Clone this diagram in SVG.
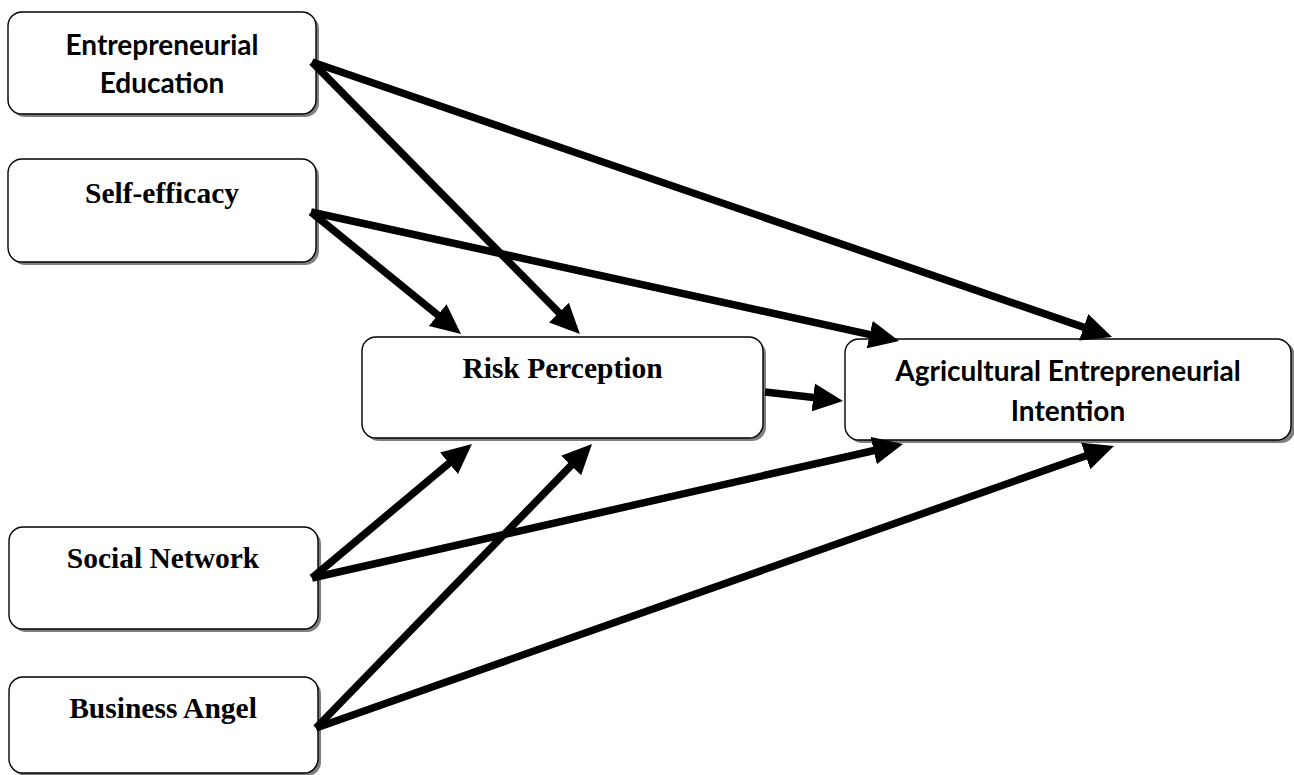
<svg xmlns="http://www.w3.org/2000/svg" width="1294" height="775" viewBox="0 0 1294 775">
  <style>
    .shadow { fill: #7f7f7f; }
    .box { fill: #ffffff; stroke: #000000; stroke-width: 1.4; }
    .sans { font-family: Lato, "Open Sans", "Liberation Sans", sans-serif; font-weight: bold; font-size: 28px; fill: #000; text-anchor: middle; }
    .serif { font-family: "Liberation Serif", "Times New Roman", serif; font-weight: bold; font-size: 29.5px; fill: #000; text-anchor: middle; }
    .conn { stroke: #000; stroke-width: 7.5; fill: none; marker-end: url(#arrow); }
  </style>
  <defs>
    <marker id="arrow" markerUnits="userSpaceOnUse" markerWidth="31" markerHeight="29" refX="5" refY="14" orient="auto" viewBox="0 0 31 28">
      <path d="M0,0 L30,14 L0,28 z" fill="#000"/>
    </marker>
  </defs>
  <rect width="1294" height="775" fill="#ffffff"/>

  <g id="node-entrepreneurial-education">
    <rect class="shadow" x="11" y="15" width="308" height="102" rx="14"/>
    <rect class="box" x="8" y="12" width="308" height="102" rx="14"/>
    <text class="sans" x="162" y="55">Entrepreneurial</text>
    <text class="sans" x="162" y="93">Education</text>
  </g>
  <g id="node-self-efficacy">
    <rect class="shadow" x="11" y="162" width="308" height="103" rx="14"/>
    <rect class="box" x="8" y="159" width="308" height="103" rx="14"/>
    <text class="serif" x="162" y="203">Self-efficacy</text>
  </g>
  <g id="node-risk-perception">
    <rect class="shadow" x="365" y="340" width="401" height="101" rx="14"/>
    <rect class="box" x="362" y="337" width="401" height="101" rx="14"/>
    <text class="serif" x="562.5" y="378">Risk Perception</text>
  </g>
  <g id="node-agricultural-entrepreneurial-intention">
    <rect class="shadow" x="848" y="342" width="447" height="101" rx="14"/>
    <rect class="box" x="845" y="339" width="446" height="101" rx="14"/>
    <text class="sans" x="1068" y="381">Agricultural Entrepreneurial</text>
    <text class="sans" x="1068" y="421">Intention</text>
  </g>
  <g id="node-social-network">
    <rect class="shadow" x="12" y="530" width="309" height="102" rx="14"/>
    <rect class="box" x="9" y="527" width="309" height="102" rx="14"/>
    <text class="serif" x="163" y="568">Social Network</text>
  </g>
  <g id="node-business-angel">
    <rect class="shadow" x="12" y="680" width="309" height="96" rx="14"/>
    <rect class="box" x="9" y="677" width="309" height="96" rx="14"/>
    <text class="serif" x="163" y="718">Business Angel</text>
  </g>

  <g id="connectors">
    <line class="conn" x1="312" y1="62" x2="562.4" y2="316.2"/>
    <line class="conn" x1="312" y1="62" x2="1088.4" y2="328.9"/>
    <line class="conn" x1="311" y1="212" x2="441.6" y2="318.2"/>
    <line class="conn" x1="311" y1="212" x2="874.6" y2="335.6"/>
    <line class="conn" x1="765" y1="392" x2="818.2" y2="398.1"/>
    <line class="conn" x1="312" y1="578" x2="452.8" y2="460.1"/>
    <line class="conn" x1="312" y1="578" x2="878.6" y2="449.5"/>
    <line class="conn" x1="316" y1="728" x2="574.6" y2="461.9"/>
    <line class="conn" x1="316" y1="728" x2="1090.4" y2="454.3"/>
  </g>
</svg>
